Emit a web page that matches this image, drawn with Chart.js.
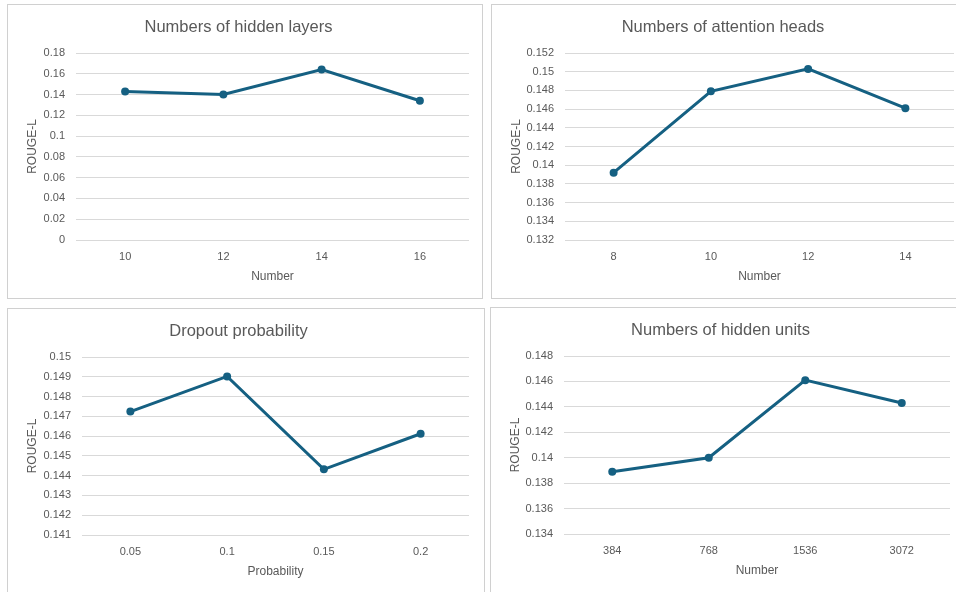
<!DOCTYPE html>
<html>
<head>
<meta charset="utf-8">
<script src="https://cdn.jsdelivr.net/npm/chart.js@4/dist/chart.umd.min.js"></script>
<style>
  body { margin: 0; background: #fff; width: 956px; height: 592px; overflow: hidden; position: relative; }
  .panel { position: absolute; border: 1px solid #d0d0d0; background: #fff; box-sizing: border-box; }
  .panel canvas { display: block; }
</style>
</head>
<body>
<div class="panel" id="p1" style="left:7px; top:4px; width:476px; height:295px"><canvas id="c1"></canvas></div>
<div class="panel" id="p2" style="left:491px; top:4px; width:476px; height:295px"><canvas id="c2"></canvas></div>
<div class="panel" id="p3" style="left:7px; top:308px; width:478px; height:295px"><canvas id="c3"></canvas></div>
<div class="panel" id="p4" style="left:490px; top:307px; width:476px; height:295px"><canvas id="c4"></canvas></div>
<script>
// values
const hiddenLayers = ['10', '12', '14', '16']
const hiddenLayersRouge = [0.143, 0.140, 0.164, 0.134]

const attentionHeads = ['8', '10', '12', '14']
const attentionHeadsRouge = [0.1392, 0.1479, 0.1503, 0.1461]

const dropoutProbs = ['0.05', '0.1', '0.15', '0.2']
const dropoutRouge = [0.14724, 0.14902, 0.14432, 0.14612]

const hiddenUnits = ['384', '768', '1536', '3072']
const hiddenUnitsRouge = [0.1389, 0.1400, 0.1461, 0.1443]

// y axis ranges: [min, max, step]
const hiddenLayersRange = [0, 0.18, 0.02]
const attentionHeadsRange = [0.132, 0.152, 0.002]
const dropoutRange = [0.141, 0.15, 0.001]
const hiddenUnitsRange = [0.134, 0.148, 0.002]

const FONT = "'Liberation Sans', Arial, sans-serif"
const TEXT = '#595959'
const LINE = '#156082'
const GRID = '#d9d9d9'

function makeChart(id, w, h, opts) {
  const canvas = document.getElementById(id)
  canvas.width = w
  canvas.height = h
  canvas.style.width = w + 'px'
  canvas.style.height = h + 'px'

  return new Chart(canvas, {
    type: 'line',
    data: {
      labels: opts.labels,
      datasets: [{
        data: opts.values,
        borderColor: LINE,
        backgroundColor: LINE,
        borderWidth: 3,
        pointRadius: 4,
        pointBorderWidth: 0,
        tension: 0
      }]
    },
    options: {
      responsive: false,
      animation: false,
      layout: { padding: { left: 0, right: opts.rightPad, top: 0, bottom: 0 } },
      plugins: {
        legend: { display: false },
        tooltip: { enabled: false },
        title: {
          display: true,
          text: opts.title,
          color: TEXT,
          font: { family: FONT, size: 16.5, weight: 'normal' },
          padding: { top: 13, bottom: 15.2 }
        }
      },
      scales: {
        x: {
          offset: true,
          grid: { display: false, drawTicks: false },
          border: { display: false },
          ticks: { color: TEXT, font: { family: FONT, size: 11 }, padding: 10.5 },
          title: {
            display: true,
            text: opts.xTitle,
            color: TEXT,
            font: { family: FONT, size: 12 },
            padding: { top: 0, bottom: 14.5 }
          },
          afterFit: (s) => { s.height = 58 }
        },
        y: {
          min: opts.range[0],
          max: opts.range[1],
          grid: { color: GRID, lineWidth: 1, drawTicks: false },
          border: { display: false },
          ticks: {
            stepSize: opts.range[2],
            color: TEXT,
            font: { family: FONT, size: 11 },
            padding: 11,
            callback: (v) => String(parseFloat(Number(v).toFixed(4)))
          },
          title: {
            display: true,
            text: 'ROUGE-L',
            color: TEXT,
            font: { family: FONT, size: 12 },
            padding: { top: 17.5, bottom: 0 }
          },
          afterFit: (s) => { s.width = opts.yWidth }
        }
      }
    }
  })
}

makeChart('c1', 474, 293, {
  labels: hiddenLayers, values: hiddenLayersRouge, range: hiddenLayersRange,
  title: 'Numbers of hidden layers', xTitle: 'Number', yWidth: 68, rightPad: 13
})
makeChart('c2', 474, 293, {
  labels: attentionHeads, values: attentionHeadsRouge, range: attentionHeadsRange,
  title: 'Numbers of attention heads', xTitle: 'Number', yWidth: 73, rightPad: 12
})
makeChart('c3', 476, 284, {
  labels: dropoutProbs, values: dropoutRouge, range: dropoutRange,
  title: 'Dropout probability', xTitle: 'Probability', yWidth: 74, rightPad: 15
})
makeChart('c4', 474, 284, {
  labels: hiddenUnits, values: hiddenUnitsRouge, range: hiddenUnitsRange,
  title: 'Numbers of hidden units', xTitle: 'Number', yWidth: 73, rightPad: 15
})
</script>
</body>
</html>
